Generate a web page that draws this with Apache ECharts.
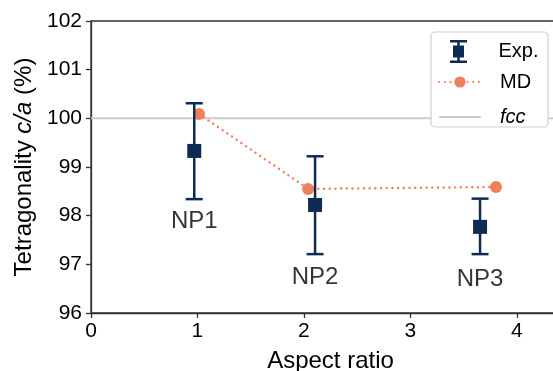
<!DOCTYPE html>
<html>
<head>
<meta charset="utf-8">
<script src="https://cdn.jsdelivr.net/npm/echarts@6/dist/echarts.min.js"></script>
<style>
html, body { margin: 0; padding: 0; background: #fff; }
#chart { width: 553px; height: 371px; }
</style>
</head>
<body>
<div id="chart"></div>
<script>
// experiment: aspect ratio, c/a value and error bar ends
var expX = [0.97, 2.105, 3.655];
var expY = [99.33, 98.22, 97.77];
var expLow = [98.34, 97.21, 97.21];
var expHigh = [100.31, 99.22, 98.35];

// MD simulation
var mdX = [1.015, 2.04, 3.805];
var mdY = [100.09, 98.55, 98.59];

// fcc reference line
var fccY = 100;
var xRange = [0, 4.5];
var yRange = [96, 102];

// particle labels
var npNames = ["NP1", "NP2", "NP3"];
var npLabelX = [0.97, 2.105, 3.655];
var npLabelY = [97.89, 96.74, 96.70];

var navy = "#0d2c54";
var orange = "#f07f5c";
var font = "Liberation Sans, Arial, sans-serif";

var chart = echarts.init(document.getElementById("chart"));

function renderErr(params, api) {
    var x = api.value(0);
    var top = api.coord([x, api.value(2)]);
    var bot = api.coord([x, api.value(1)]);
    var mid = api.coord([x, api.value(3)]);
    var cap = 8.5, half = 7;
    var st = { stroke: navy, lineWidth: 2.5 };
    return {
        type: "group",
        children: [
            { type: "line", shape: { x1: top[0], y1: top[1], x2: bot[0], y2: bot[1] }, style: st },
            { type: "line", shape: { x1: top[0] - cap, y1: top[1], x2: top[0] + cap, y2: top[1] }, style: st },
            { type: "line", shape: { x1: bot[0] - cap, y1: bot[1], x2: bot[0] + cap, y2: bot[1] }, style: st },
            { type: "rect", shape: { x: mid[0] - half, y: mid[1] - half, width: half * 2, height: half * 2 }, style: { fill: navy } }
        ]
    };
}

var legendText = { fontSize: 20, fontFamily: font, color: "#000", padding: [0, 0, 0, 14] };

var option = {
    backgroundColor: "#fff",
    animation: false,
    grid: {
        left: 91,
        right: -17,
        top: 21,
        bottom: 58,
        outerBoundsMode: "none",
        containLabel: false,
        show: true,
        borderColor: "#333",
        borderWidth: 1.3
    },
    graphic: [
        {
            type: "rect",
            z: 50,
            shape: { x: 431, y: 32, width: 117, height: 95, r: 4 },
            style: { fill: "#fff", stroke: "#cfcfcf", lineWidth: 1.2 }
        }
    ],
    legend: [
        {
            z: 60,
            orient: "vertical",
            left: 450,
            top: 40,
            padding: 0,
            itemWidth: 42,
            itemHeight: 23,
            textStyle: legendText,
            data: [
                { name: "Exp.", icon: "path://M0,0H17V2.5H9.75V5.5H14V17.5H9.75V20.5H17V23H0V20.5H7.25V17.5H3V5.5H7.25V2.5H0Z" }
            ]
        },
        {
            z: 60,
            orient: "vertical",
            left: 438,
            top: 72,
            padding: 0,
            itemWidth: 42,
            itemHeight: 14,
            itemGap: 15,
            textStyle: legendText,
            data: [
                "MD",
                { name: "fcc", icon: "path://M0,0H42V2.2H0Z", textStyle: { fontStyle: "italic" } }
            ]
        }
    ],
    xAxis: {
        type: "value",
        min: xRange[0],
        max: xRange[1],
        interval: 1,
        name: "Aspect ratio",
        nameLocation: "middle",
        nameGap: 36,
        nameTextStyle: { fontSize: 24, fontFamily: font, color: "#000" },
        splitLine: { show: false },
        axisLine: { lineStyle: { color: "#333", width: 1.3 } },
        axisTick: { length: 5, lineStyle: { color: "#333", width: 1.3 } },
        axisLabel: { fontSize: 21, fontFamily: font, color: "#000", margin: 8, showMaxLabel: false }
    },
    yAxis: {
        type: "value",
        min: yRange[0],
        max: yRange[1],
        interval: 1,
        name: "Tetragonality {i|c/a} (%)",
        nameLocation: "middle",
        nameGap: 55,
        nameTextStyle: {
            fontSize: 24, fontFamily: font, color: "#000",
            rich: { i: { fontSize: 24, fontFamily: font, color: "#000", fontStyle: "italic" } }
        },
        splitLine: { show: false },
        axisLine: { lineStyle: { color: "#333", width: 1.3 } },
        axisTick: { length: 5, lineStyle: { color: "#333", width: 1.3 } },
        axisLabel: { fontSize: 21, fontFamily: font, color: "#000", margin: 9 }
    },
    series: [
        {
            name: "fcc",
            type: "line",
            z: 1,
            symbol: "none",
            color: "#cccccc",
            lineStyle: { color: "#cccccc", width: 2 },
            data: [[xRange[0], fccY], [xRange[1], fccY]]
        },
        {
            name: "MD",
            type: "line",
            z: 3,
            symbol: "circle",
            symbolSize: 12,
            color: orange,
            itemStyle: { color: orange },
            lineStyle: { color: orange, width: 2.4, type: [0.1, 5.6], cap: "round" },
            data: mdX.map(function(x, i) { return [x, mdY[i]]; })
        },
        {
            name: "Exp.",
            type: "custom",
            z: 4,
            color: navy,
            renderItem: renderErr,
            data: expX.map(function(x, i) { return [x, expLow[i], expHigh[i], expY[i]]; })
        },
        {
            name: "labels",
            type: "scatter",
            symbolSize: 1,
            itemStyle: { color: "rgba(0,0,0,0)" },
            label: {
                show: true,
                position: "inside",
                formatter: "{b}",
                fontSize: 24,
                fontFamily: font,
                color: "#000"
            },
            data: npNames.map(function(n, i) { return { name: n, value: [npLabelX[i], npLabelY[i]] }; })
        }
    ]
};
chart.setOption(option);
</script>
</body>
</html>
